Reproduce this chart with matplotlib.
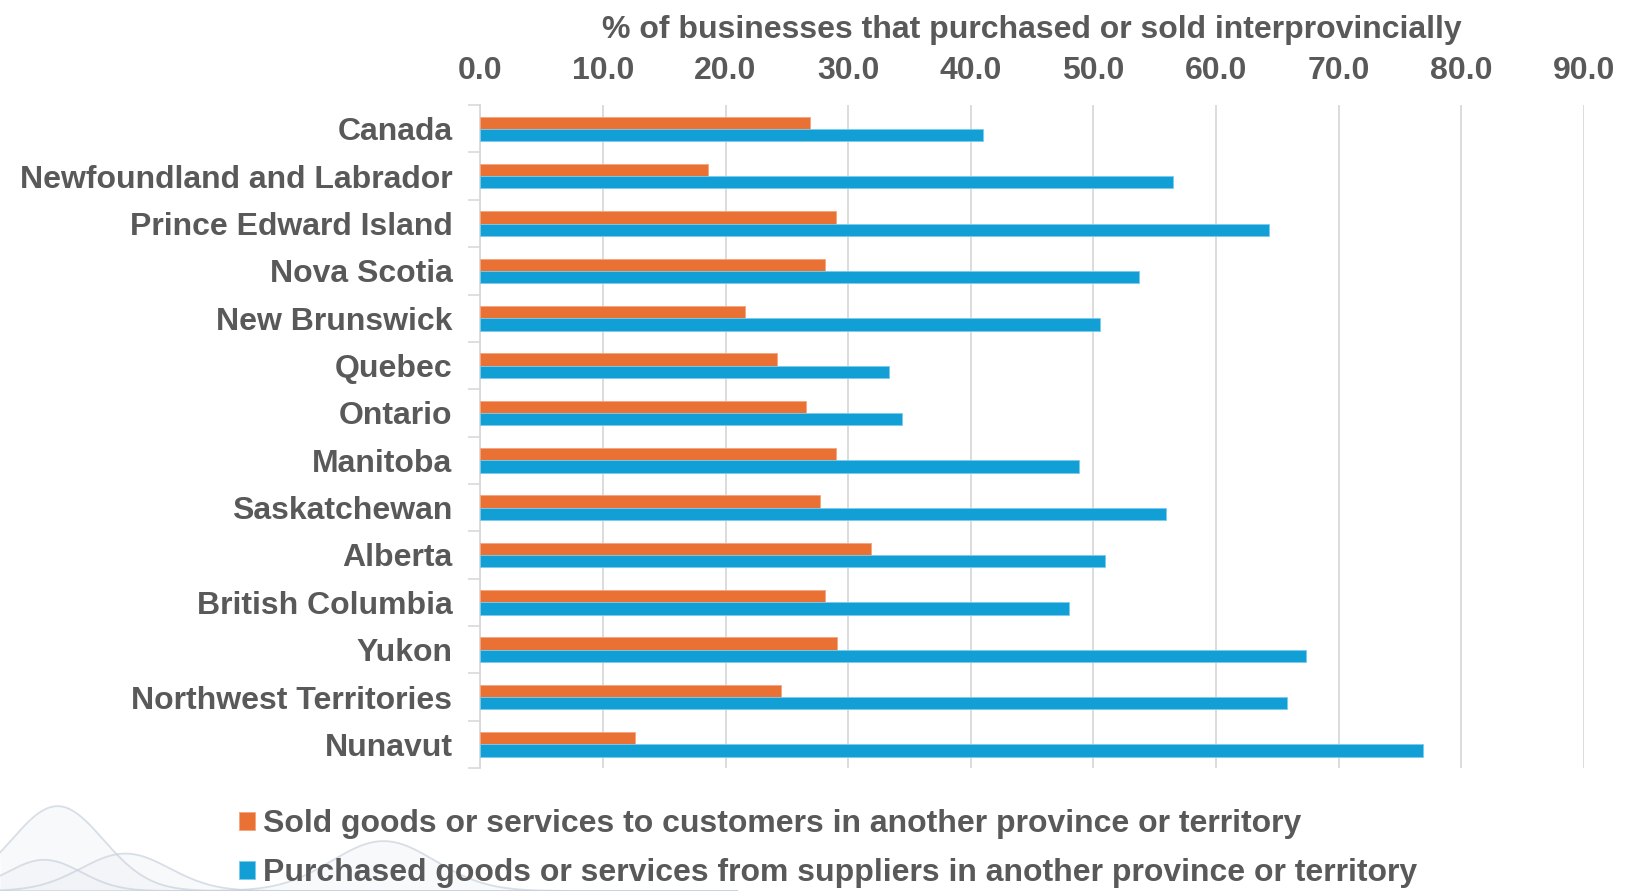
import numpy as np
import matplotlib
matplotlib.use("Agg")
import matplotlib.pyplot as plt

# données
regions = ["Canada", "Newfoundland and Labrador", "Prince Edward Island",
           "Nova Scotia", "New Brunswick", "Quebec", "Ontario", "Manitoba",
           "Saskatchewan", "Alberta", "British Columbia", "Yukon",
           "Northwest Territories", "Nunavut"]
sold = [26.9, 18.6, 29.0, 28.1, 21.6, 24.2, 26.6, 29.0, 27.7, 31.9, 28.1, 29.1, 24.5, 12.6]
purchased = [41.0, 56.5, 64.3, 53.7, 50.5, 33.3, 34.4, 48.8, 55.9, 50.9, 48.0, 67.3, 65.8, 76.9]
xticks = [0, 10, 20, 30, 40, 50, 60, 70, 80, 90]

label_sold = "Sold goods or services to customers in another province or territory"
label_purch = "Purchased goods or services from suppliers in another province or territory"
title = "% of businesses that purchased or sold interprovincially"

orange = "#EA7134"
blue = "#119FD6"
grey_txt = "#595959"
grid_c = "#D9D9D9"

plt.rcParams["font.family"] = ["Liberation Sans", "DejaVu Sans"]
plt.rcParams["font.weight"] = "bold"

fig = plt.figure(figsize=(16.39, 8.91), dpi=100)

# décor : courbes pâles en bas à gauche
deco = fig.add_axes([0, 0, 0.45, 0.14])
deco.set_xlim(0, 1)
deco.set_ylim(0, 1)
deco.axis("off")
t = np.linspace(0, 1, 400)
for mu, sig, amp in [(0.078, 0.062, 0.68), (0.17, 0.06, 0.3), (0.06, 0.05, 0.25), (0.52, 0.07, 0.4)]:
    curve = amp * np.exp(-((t - mu) / sig) ** 2 / 2)
    deco.fill_between(t, 0, curve, color="#EEF1F5", alpha=0.4, lw=0)
    deco.plot(t, curve, color="#C9D1DD", lw=1.3, alpha=0.7)

ax = fig.add_axes([0.293, 0.138, 0.6735, 0.744])
y = np.arange(len(regions))
h = 0.26
ax.barh(y - 0.13, sold, height=h, color=orange, edgecolor="#F3A57E", linewidth=0.6,
        label=label_sold, zorder=3)
ax.barh(y + 0.13, purchased, height=h, color=blue, edgecolor="#7CCBEA", linewidth=0.6,
        label=label_purch, zorder=3)

ax.set_xlim(0, 90)
ax.set_ylim(len(regions) - 0.5, -0.5)
ax.xaxis.tick_top()
ax.set_xticks(xticks)
ax.set_xticklabels([f"{v:.1f}" for v in xticks])
ax.tick_params(axis="x", length=0, pad=14, labelsize=23, labelcolor=grey_txt)
ax.set_xlabel(title, fontsize=23, color=grey_txt, fontweight="bold", labelpad=13)
ax.xaxis.set_label_position("top")

ax.set_yticks(y)
ax.set_yticklabels(regions)
ax.set_yticks(np.arange(len(regions) + 1) - 0.5, minor=True)
ax.tick_params(axis="y", which="major", length=0, pad=20, labelsize=23, labelcolor=grey_txt)
ax.tick_params(axis="y", which="minor", length=9, width=1.2, color=grid_c)

ax.grid(axis="x", color=grid_c, lw=1.3, zorder=0)
for s in ["top", "right", "bottom"]:
    ax.spines[s].set_visible(False)
ax.spines["left"].set_color(grid_c)
ax.spines["left"].set_linewidth(1.3)

fig.legend(loc="upper left", bbox_to_anchor=(0.136, 0.11), frameon=False,
           fontsize=23, labelcolor=grey_txt, handlelength=0.5, handleheight=0.5,
           handletextpad=0.25, labelspacing=0.6, borderpad=0)

fig.savefig("out.png", dpi=100)
